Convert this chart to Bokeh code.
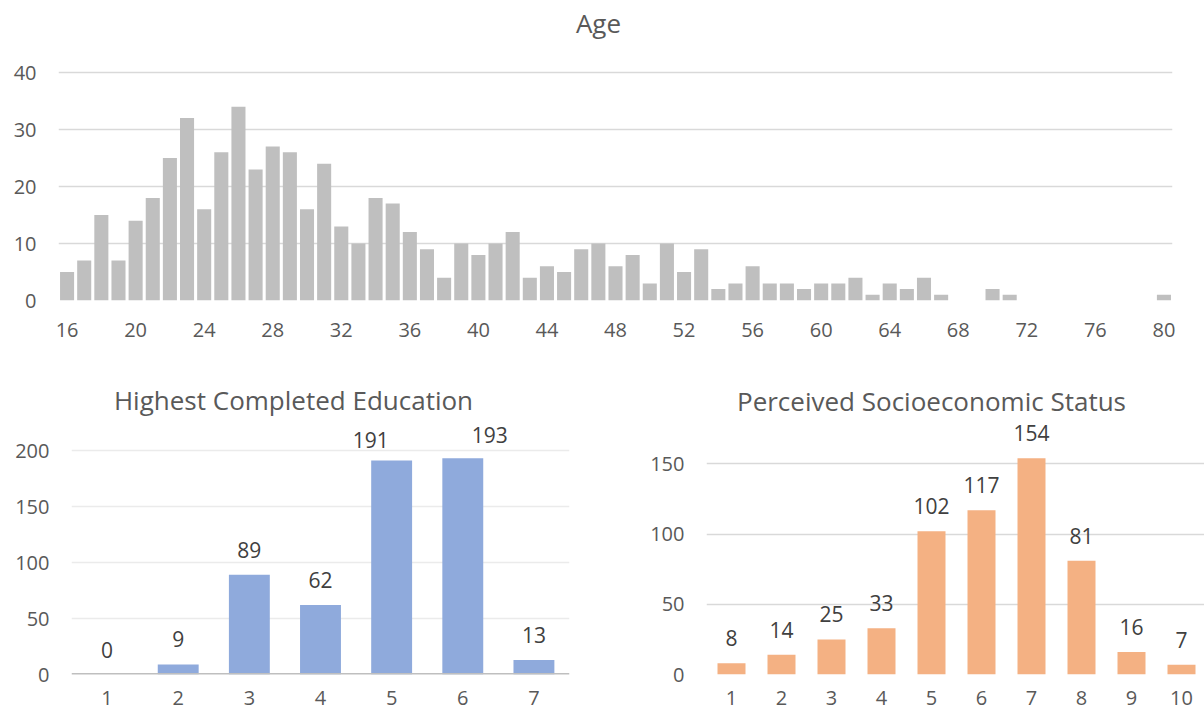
from bokeh.plotting import figure
from bokeh.layouts import column, row
from bokeh.models import ColumnDataSource, FixedTicker, Range1d, Span, Label
from bokeh.core.properties import value
from bokeh.embed import file_html
from bokeh.resources import INLINE

# ---- data -------------------------------------------------------------
age_years = list(range(16, 81))
age_counts = [5, 7, 15, 7, 14, 18, 25, 32, 16, 26,
              34, 23, 27, 26, 16, 24, 13, 10, 18, 17,
              12, 9, 4, 10, 8, 10, 12, 4, 6, 5,
              9, 10, 6, 8, 3, 10, 5, 9, 2, 3,
              6, 3, 3, 2, 3, 3, 4, 1, 3, 2,
              4, 1, 0, 0, 2, 1, 0, 0, 0, 0,
              0, 0, 0, 0, 1]
age_xticks = list(range(16, 81, 4))
age_yticks = [0, 10, 20, 30, 40]

edu_levels = [1, 2, 3, 4, 5, 6, 7]
edu_counts = [0, 9, 89, 62, 191, 193, 13]
edu_yticks = [0, 50, 100, 150, 200]

ses_levels = [1, 2, 3, 4, 5, 6, 7, 8, 9, 10]
ses_counts = [8, 14, 25, 33, 102, 117, 154, 81, 16, 7]
ses_yticks = [0, 50, 100, 150]

# ---- styling ----------------------------------------------------------
FONT = "Open Sans"
AXIS_TXT = "#595959"
LABEL_TXT = "#404040"
GRID = "#d9d9d9"
LABEL_RAISE = -25  # data labels sit this many pixels above the bar top


def make_fig(x_range, y_range, fw, fh, left, right, bottom,
             xticks, yticks, tick_size, grid_color=GRID):
    # the frame reaches the top edge so the chart title can live inside it
    p = figure(x_range=x_range, y_range=y_range,
               frame_width=fw, frame_height=fh,
               min_border_left=left, min_border_right=right,
               min_border_top=0, min_border_bottom=bottom,
               output_backend="svg", toolbar_location=None,
               background_fill_color="white", border_fill_color="white")
    p.outline_line_color = None
    p.xgrid.grid_line_color = None
    yt = FixedTicker(ticks=yticks)
    p.yaxis.ticker = yt
    p.ygrid.ticker = yt
    p.ygrid.grid_line_color = grid_color
    p.ygrid.grid_line_width = 1.5
    p.xaxis.ticker = FixedTicker(ticks=xticks)
    for ax in (p.xaxis, p.yaxis):
        ax.axis_line_color = None
        ax.major_tick_line_color = None
        ax.minor_tick_line_color = None
        ax.major_tick_out = 0
        ax.major_tick_in = 0
        ax.major_label_text_font = FONT
        ax.major_label_text_font_size = tick_size
        ax.major_label_text_color = AXIS_TXT
    p.yaxis.major_label_standoff = 22
    p.xaxis.major_label_standoff = 16
    return p


def add_title(p, text, x, y, dx, dy):
    p.add_layout(Label(x=x, y=y, x_offset=dx, y_offset=dy, text=text,
                       text_align="center", text_baseline="alphabetic",
                       text_font=FONT, text_font_size="26px",
                       text_color=AXIS_TXT))


# ---- Age histogram ----------------------------------------------------
age_x0, age_x1 = age_years[0] - 0.5, age_years[-1] + 0.5
age_top = 40 * 300 / 228
pa = make_fig(Range1d(age_x0, age_x1), Range1d(0, age_top), 1114, 300,
              58, 32, 55, age_xticks, age_yticks, "20px")
pa.xaxis.major_label_standoff = 22
pa.vbar(x=age_years, top=age_counts, width=0.82,
        fill_color="#bfbfbf", line_color=None)
add_title(pa, "Age", (age_x0 + age_x1) / 2, age_yticks[-1], -17, 50)

# ---- Highest Completed Education -------------------------------------
edu_top = 200 * 319 / 224
pb = make_fig(Range1d(0.5, 7.5), Range1d(0, edu_top), 498, 319,
              71, 31, 41, edu_levels, edu_yticks, "20px",
              grid_color="#ebebeb")
pb.add_layout(Span(location=0, dimension="width",
                   line_color="#bfbfbf", line_width=3))
edu_dx = [0, 0, 0, 0, -21, 27, 0]
edu_dy = [0, 0, 0, 0, 4.5, 1.5, 0]
edu_src = ColumnDataSource(dict(
    x=edu_levels, top=edu_counts,
    label=[str(v) for v in edu_counts],
    dx=edu_dx, dy=[LABEL_RAISE + d for d in edu_dy]))
pb.vbar(x="x", top="top", width=0.575, source=edu_src,
        fill_color="#8faadc", line_color=None)
pb.text(x="x", y="top", text="label", source=edu_src,
        x_offset="dx", y_offset="dy",
        text_align="center", text_baseline="alphabetic",
        text_font=value(FONT), text_font_size="21px", text_color=LABEL_TXT)
add_title(pb, "Highest Completed Education", 4.0, edu_yticks[-1], -27, 51)

# ---- Perceived Socioeconomic Status ----------------------------------
ses_top = 150 * 319 / 210.7
ses_x1 = 0.5 + 498 / 50.0
pc = make_fig(Range1d(0.5, ses_x1), Range1d(0, ses_top), 498, 319,
              106, 0, 41, ses_levels, ses_yticks, "20px")
ses_src = ColumnDataSource(dict(
    x=ses_levels, top=ses_counts,
    label=[str(v) for v in ses_counts]))
pc.vbar(x="x", top="top", width=0.56, source=ses_src,
        fill_color="#f4b183", line_color=None)
pc.text(x="x", y="top", text="label", source=ses_src,
        y_offset=LABEL_RAISE,
        text_align="center", text_baseline="alphabetic",
        text_font=value(FONT), text_font_size="21px", text_color=LABEL_TXT)
add_title(pc, "Perceived Socioeconomic Status", (0.5 + ses_x1) / 2,
          ses_yticks[-1], -24, 63)

layout = column(pa, row(pb, pc, spacing=0), spacing=0)

with open("out.html", "w") as f:
    f.write(file_html(layout, INLINE))
